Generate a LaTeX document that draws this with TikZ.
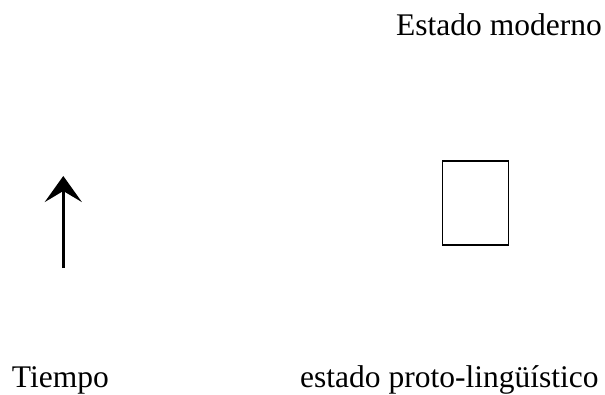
\documentclass[tikz,border=0pt]{standalone}
\usepackage{fontspec}
\setmainfont{Liberation Serif}
\usetikzlibrary{arrows.meta, positioning}
\tikzset{>={Stealth[length=26pt,width=37pt,inset=11pt]}}

\begin{document}
\begin{tikzpicture}[x=1pt, y=1pt, font=\fontsize{31.5}{36}\selectfont]
    \useasboundingbox (0,0) rectangle (605,394);
    \node[anchor=base west, inner sep=0](moderno) at (396,358) {Estado moderno};
    \node[anchor=base west, inner sep=0](tiempo) at (11.7,7) {Tiempo};
    \node[anchor=base west, inner sep=0](proto) at (300,7) {estado proto-lingüístico};
    
    \node[draw, line width=1.7pt, minimum width=66pt, minimum height=84pt, inner sep=0](caja) at (475.5,191.1) {};
    
    \coordinate (ini) at (63.3,126);
    \coordinate (fin) at (63.3,218);
    \draw[->, line width=3.3pt](ini)--(fin);
\end{tikzpicture}
\end{document}
